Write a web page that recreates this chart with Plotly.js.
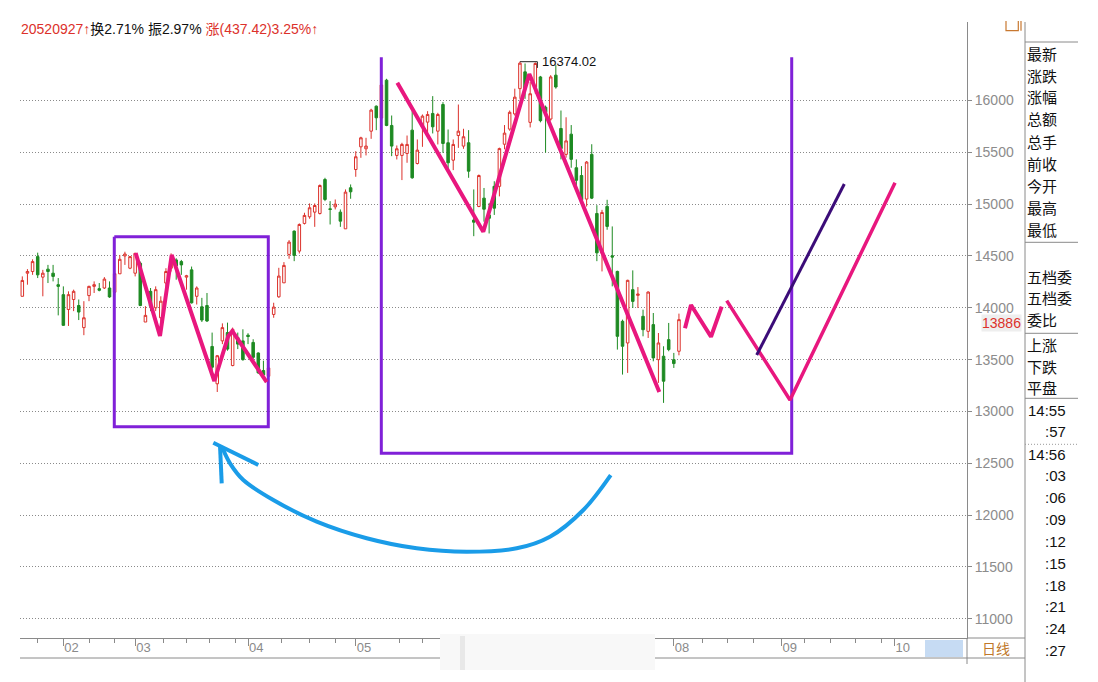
<!doctype html>
<html lang="zh">
<head>
    <meta charset="UTF-8">
    <title>日线 K线</title>
    <script src="https://cdn.plot.ly/plotly-3.0.1.min.js"></script>
    <style>
        body { margin: 0; background: #ffffff; }
        #chart { width: 1098px; height: 682px; }
    </style>
</head>
<body>
    <div id="chart"></div>

    <script>
        // daily candles (index = trading day)
        var opens = [14111,14334,14350,14494,14296,14373,14334,14223,14127,13984,
                     14080,14022,13809,14118,14207,14185,14191,14191,14150,14328,
                     14500,14382,14334,14430,13863,14159,14000,13904,14239,14382,
                     14462,14446,14296,14366,14111,14010,14022,13627,13267,13681,
                     13761,13443,13713,13681,13736,13666,13564,13395,13340,13936,
                     14106,14241,14515,14740,14547,14814,14878,14923,14910,15238,
                     14955,14974,14923,14762,15158,15334,15553,15534,15704,15945,
                     15830,16196,15759,15470,15470,15489,15714,15392,15746,15791,
                     15875,15704,15961,15592,15424,15662,15560,15592,14846,14977,
                     15058,14896,15172,15172,15578,15724,15870,16114,16276,15789,
                     16130,16227,15935,15821,16244,15730,15480,15675,15351,15276,
                     15049,15480,14910,14528,14978,14502,14351,13870,13661,14175,
                     14120,13918,13773,13838,13500,13533,13693,13500,13581];
        var highs = [14303,14373,14468,14532,14366,14414,14414,14287,14207,14159,
                     14175,14080,14064,14213,14255,14239,14296,14255,14360,14510,
                     14541,14500,14532,14446,14016,14191,14207,14111,14382,14525,
                     14478,14462,14318,14398,14207,14096,14143,13761,13545,13850,
                     13857,13809,13761,13793,13755,13697,13570,13490,13450,14049,
                     14386,14441,14653,14746,14814,14917,15007,15007,15190,15254,
                     15029,15045,14949,15142,15190,15511,15650,15640,15920,15952,
                     16200,16209,15855,15566,15592,15662,15897,15624,15865,15897,
                     16042,15881,15984,15720,15624,15961,15727,15714,15142,15286,
                     15156,15010,15221,15545,15763,15903,16114,16374.02,16357,16179,
                     16367,16237,15951,16244,16341,15903,15838,15763,15432,15367,
                     15416,15578,14990,14945,15042,14785,14358,13886,14271,14361,
                     14200,13982,14159,13950,13757,13629,13854,13565,13944];
        var lows =  [14111,14223,14318,14287,14111,14239,14255,13927,13825,13825,
                     13968,13882,13736,14064,14143,14159,14182,14096,14120,14328,
                     14414,14373,14303,14016,13863,13968,13968,13857,14143,14350,
                     14271,14318,14175,14041,14032,13863,13863,13347,13188,13650,
                     13586,13436,13602,13490,13650,13506,13363,13347,13300,13904,
                     14097,14241,14473,14450,14524,14804,14859,14781,14900,15029,
                     14804,14949,14781,14762,15052,15264,15447,15470,15630,15714,
                     15800,15752,15463,15431,15232,15399,15245,15383,15553,15688,
                     15682,15576,15495,15328,15328,15543,15534,15254,14691,14971,
                     14831,14717,14896,15075,15529,15708,15854,16016,16016,15740,
                     16065,15789,15497,15805,16114,15432,15448,15351,15140,15010,
                     14977,15049,14450,14351,14753,14207,13597,13356,13372,13998,
                     13998,13725,13709,13484,13276,13083,13581,13420,13542];
        var closes = [14264,14350,14446,14318,14334,14350,14303,14207,13831,14127,
                      14159,13959,13904,14207,14223,14169,14277,14105,14330,14468,
                      14519,14494,14525,14022,13927,14016,14175,14064,14350,14455,
                      14404,14414,14309,14048,14191,13882,13873,13427,13538,13809,
                      13602,13793,13650,13500,13723,13522,13373,13353,13420,14007,
                      14306,14409,14634,14505,14804,14891,14965,14987,15180,15045,
                      14949,15000,14836,15116,15119,15457,15640,15560,15907,15833,
                      16150,15759,15560,15534,15576,15576,15254,15521,15849,15865,
                      15746,15865,15585,15399,15576,15704,15650,15318,14826,15276,
                      14951,14864,14961,15536,15685,15886,16032,16360,16120,16065,
                      16357,15805,15886,16227,16130,15536,15610,15432,15230,15042,
                      15406,15058,14530,14920,14785,14489,13725,13629,14265,14062,
                      14133,13789,14152,13517,13661,13292,13597,13462,13886];

        var dayIdx = opens.map(function (v, i) { return i; });

        // axis labels
        var monthIdx = [8, 22, 44, 65, 127, 148, 170];
        var monthText = ['02', '03', '04', '05', '08', '09', '10'];
        var weekIdx = [3, 13, 18, 27.5, 32, 36.5, 41.5, 50.5, 56, 61, 73.5, 78, 132.5, 137.5, 142.5, 152.5, 157.5, 162.5, 167.5];
        var priceTicks = [11000, 11500, 12000, 12500, 13000, 13500, 14000, 14500, 15000, 15500, 16000];

        // peak label
        var peakIdx = 97, peakVal = 16374.02, peakEndIdx = 100.4;

        // hand-drawn marks, in (day index, price)
        var boxX = [17.93, 47.95, 47.95, 17.93, 17.93];
        var boxY = [14686, 14686, 12853, 12853, 14686];
        var cupX = [69.98, 69.98, 149.98, 149.98];
        var cupY = [16417, 12596, 12596, 16417];
        var zigLeftX = [22.1, 26.84, 29.12, 37.43, 40.16, 40.94, 47.64];
        var zigLeftY = [14529, 13728, 14510, 13294, 13728, 13776, 13284];
        var zigBigX = [73.1, 89.86, 98.83, 124.17];
        var zigBigY = [16172, 14734, 16256, 13188];
        var zigSmallX = [129.18, 130.35, 134.25, 136.33];
        var zigSmallY = [13802, 14027, 13721, 14011];
        var vLegX = [137.31, 149.65, 170.12];
        var vLegY = [14069, 13111, 15207];
        var darkX = [143.16, 160.23];
        var darkY = [13545, 15194];
        var arcX = [114.7, 109.36, 102.86, 96.37, 86.63, 76.88, 67.13, 57.39, 48.93, 43.08, 40.49, 38.93];
        var arcY = [12387, 12050, 11792, 11680, 11647, 11680, 11777, 11937, 12146, 12339, 12500, 12657];
        var headAX = [38.87, 38.54], headAY = [12307, 12667];
        var headBX = [37.23, 46.0],  headBY = [12699, 12484];

        // side panel text
        var panelRows1 = ['最新', '涨跌', '涨幅', '总额', '总手', '前收', '今开', '最高', '最低'];
        var panelRows2 = ['五档委', '五档委', '委比'];
        var panelRows3 = ['上涨', '下跌', '平盘'];
        var tickTimes = ['14:55', ':57', '14:56', ':03', ':06', ':09', ':12', ':15', ':18', ':21', ':24', ':27'];
        var lastPrice = '13886';

        var RED = '#dc312b', GREEN = '#1d8a22', PURPLE = '#8020d8', PINK = '#e8177e';
        var FONT = '"Liberation Sans", Arial, "Noto Sans CJK SC", sans-serif';
        var CJK = '"Noto Sans CJK SC", sans-serif';

        // pixel -> paper helpers for the frame decorations
        function px(x) { return (x - 20) / 947; }
        function py(y) { return (638 - y) / 616; }
        function seg(x0, y0, x1, y1, color, dash) {
            return { type: 'line', xref: 'paper', yref: 'paper', x0: px(x0), y0: py(y0), x1: px(x1), y1: py(y1),
                     line: { color: color || '#8a8a8a', width: 1, dash: dash || 'solid' } };
        }

        var traces = [
            {
                type: 'candlestick', x: dayIdx, open: opens, high: highs, low: lows, close: closes,
                increasing: { line: { color: RED, width: 1 }, fillcolor: '#ffffff' },
                decreasing: { line: { color: GREEN, width: 1 }, fillcolor: GREEN },
                whiskerwidth: 0, hoverinfo: 'skip', showlegend: false
            },
            { x: [peakIdx, peakEndIdx, peakEndIdx], y: [peakVal, peakVal, peakVal - 60], mode: 'lines',
              line: { color: '#222', width: 1 }, hoverinfo: 'skip' },
            { x: boxX, y: boxY, mode: 'lines', line: { color: PURPLE, width: 3 }, hoverinfo: 'skip' },
            { x: cupX, y: cupY, mode: 'lines', line: { color: PURPLE, width: 3 }, hoverinfo: 'skip' },
            { x: zigLeftX, y: zigLeftY, mode: 'lines', line: { color: PINK, width: 4 }, hoverinfo: 'skip' },
            { x: zigBigX, y: zigBigY, mode: 'lines', line: { color: PINK, width: 4 }, hoverinfo: 'skip' },
            { x: zigSmallX, y: zigSmallY, mode: 'lines', line: { color: PINK, width: 4 }, hoverinfo: 'skip' },
            { x: vLegX, y: vLegY, mode: 'lines', line: { color: PINK, width: 3.5 }, hoverinfo: 'skip' },
            { x: darkX, y: darkY, mode: 'lines', line: { color: '#3b0c78', width: 3 }, hoverinfo: 'skip' },
            { x: arcX, y: arcY, mode: 'lines', line: { color: '#1a9ce8', width: 4, shape: 'spline' }, hoverinfo: 'skip' },
            { x: headAX, y: headAY, mode: 'lines', line: { color: '#1a9ce8', width: 4 }, hoverinfo: 'skip' },
            { x: headBX, y: headBY, mode: 'lines', line: { color: '#1a9ce8', width: 4 }, hoverinfo: 'skip' }
        ];

        var shapes = [
            seg(967, 638, 967, 664),
            seg(20, 658, 1025, 658),
            seg(967, 638, 1025, 638),
            seg(1025, 22, 1025, 682),
            seg(1025, 42, 1078, 42),
            seg(1025, 242.3, 1078, 242.3),
            seg(1025, 333.3, 1078, 333.3),
            seg(1025, 398.3, 1078, 398.3),
            seg(1025, 444.3, 1078, 444.3, '#999', '1px,2px'),
            // scrollbar thumb
            { type: 'rect', xref: 'paper', yref: 'paper', x0: px(925), x1: px(963), y0: py(657), y1: py(640),
              line: { width: 0 }, fillcolor: '#c6dbf3' },
            // blurred watermark
            { type: 'rect', xref: 'paper', yref: 'paper', x0: px(440), x1: px(655), y0: py(670), y1: py(634),
              line: { width: 0 }, fillcolor: '#f8f8f8' },
            { type: 'rect', xref: 'paper', yref: 'paper', x0: px(460), x1: px(465), y0: py(670), y1: py(636),
              line: { width: 0 }, fillcolor: '#e8e8e8' },
            // small orange icon top right
            { type: 'path', xref: 'paper', yref: 'paper',
              path: 'M' + px(1006) + ',' + py(21) + ' L' + px(1006) + ',' + py(30.7) + ' L' + px(1018.3) + ',' + py(30.7) +
                    ' L' + px(1018.3) + ',' + py(21) + ' M' + px(1021) + ',' + py(21) + ' L' + px(1021) + ',' + py(30.7),
              line: { color: '#c87830', width: 1.2 } }
        ];

        var annotations = [
            { xref: 'paper', yref: 'paper', x: px(19), y: py(29), xanchor: 'left', yanchor: 'middle', showarrow: false,
              font: { family: FONT, size: 14, color: '#111' },
              text: '<span style="color:' + RED + '">20520927↑</span>换2.71% 振2.97% <span style="color:' + RED + '">涨(437.42)3.25%↑</span>' },
            { x: peakEndIdx + 0.6, y: peakVal, xanchor: 'left', yanchor: 'middle', showarrow: false,
              font: { family: FONT, size: 13, color: '#111' }, text: '16374.02' },
            { xref: 'paper', yref: 'paper', x: px(996), y: py(648), xanchor: 'center', yanchor: 'middle', showarrow: false,
              font: { family: CJK, size: 14, color: '#c0782a' }, text: '日线' },
            { xref: 'paper', yref: 'paper', x: px(1022), y: py(323), xanchor: 'right', yanchor: 'middle', showarrow: false,
              font: { family: FONT, size: 14, color: RED }, text: lastPrice, bgcolor: '#eeeeee', borderpad: 0 }
        ];

        panelRows1.forEach(function (t, i) {
            annotations.push({ xref: 'paper', yref: 'paper', x: px(1025), y: py(53 + i * 22), xanchor: 'left', yanchor: 'middle',
                               showarrow: false, font: { family: CJK, size: 15, color: '#111' }, text: t });
        });
        panelRows2.forEach(function (t, i) {
            annotations.push({ xref: 'paper', yref: 'paper', x: px(1025), y: py(276 + i * 21.7), xanchor: 'left', yanchor: 'middle',
                               showarrow: false, font: { family: CJK, size: 15, color: '#111' }, text: t });
        });
        panelRows3.forEach(function (t, i) {
            annotations.push({ xref: 'paper', yref: 'paper', x: px(1025), y: py(344 + i * 22), xanchor: 'left', yanchor: 'middle',
                               showarrow: false, font: { family: CJK, size: 15, color: '#111' }, text: t });
        });
        tickTimes.forEach(function (t, i) {
            var yy = i < 2 ? 410 + i * 21.7 : 454 + (i - 2) * 21.85;
            annotations.push({ xref: 'paper', yref: 'paper', x: px(1068), y: py(yy), xanchor: 'right', yanchor: 'middle',
                               showarrow: false, font: { family: FONT, size: 15, color: '#111' }, text: t });
        });

        var layout = {
            width: 1098, height: 682,
            margin: { l: 20, r: 131, t: 22, b: 44 },
            paper_bgcolor: '#ffffff', plot_bgcolor: '#ffffff',
            showlegend: false,
            font: { family: FONT },
            xaxis: {
                range: [-0.45, 184.15], fixedrange: true,
                rangeslider: { visible: false },
                tickmode: 'array', tickvals: monthIdx, ticktext: monthText,
                ticks: 'outside', ticklen: 7, tickcolor: '#8a8a8a', tickwidth: 1,
                ticklabelposition: 'outside right', ticklabelstandoff: -3,
                minor: { tickmode: 'array', tickvals: weekIdx, ticks: 'outside', ticklen: 4, tickcolor: '#8a8a8a' },
                tickfont: { size: 13, color: '#8a8a8a' },
                showline: true, linecolor: '#8a8a8a', linewidth: 1,
                showgrid: false, zeroline: false
            },
            yaxis: {
                side: 'right', range: [10815, 16757], fixedrange: true,
                tickmode: 'array', tickvals: priceTicks, ticktext: priceTicks.map(String),
                ticks: 'outside', ticklen: 4, tickcolor: '#8a8a8a',
                tickfont: { size: 14, color: '#8c8c8c' },
                showline: true, linecolor: '#8a8a8a', linewidth: 1,
                showgrid: true, gridcolor: '#8a8a8a', griddash: '1px,2px', gridwidth: 1,
                zeroline: false
            },
            shapes: shapes,
            annotations: annotations
        };

        Plotly.newPlot('chart', traces, layout, { displayModeBar: false, staticPlot: true });
    </script>
</body>
</html>
